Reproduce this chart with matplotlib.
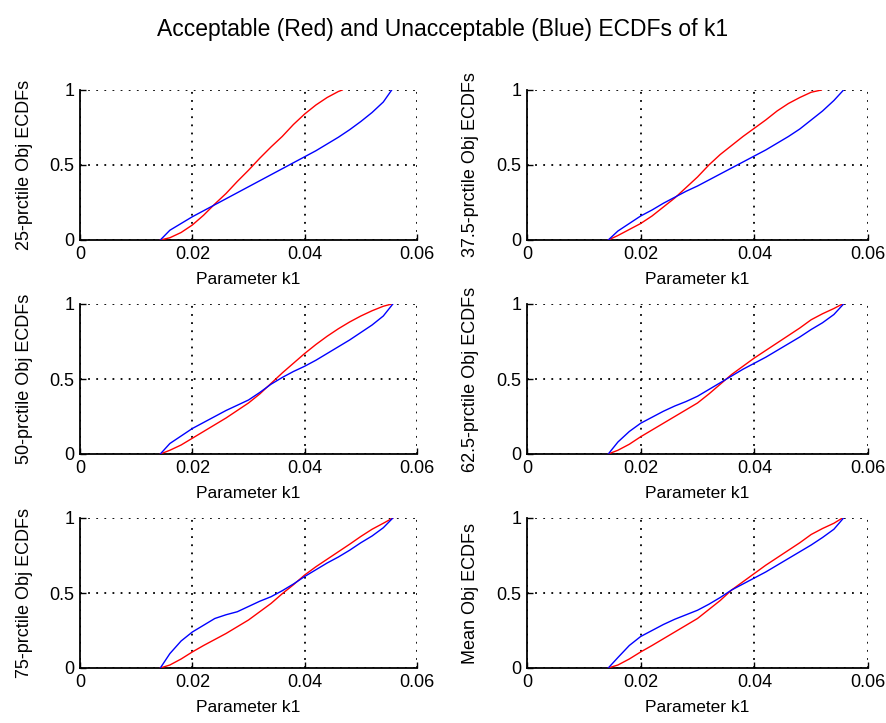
import matplotlib
matplotlib.use("Agg")
import matplotlib.pyplot as plt

plt.rcParams['font.family'] = ['Liberation Sans', 'DejaVu Sans']

# common k1 sample grid; each curve also has its own end point (where ECDF hits 1)
k1 = [0.0143, 0.016, 0.018, 0.020, 0.022, 0.024, 0.026, 0.028, 0.030, 0.032, 0.034,
      0.036, 0.038, 0.040, 0.042, 0.044, 0.046, 0.048, 0.050, 0.052, 0.054]

ylabels = ["25-prctile Obj ECDFs", "37.5-prctile Obj ECDFs", "50-prctile Obj ECDFs",
           "62.5-prctile Obj ECDFs", "75-prctile Obj ECDFs", "Mean Obj ECDFs"]

# acceptable (red)
red_25 = [0, 0.015, 0.05, 0.10, 0.165, 0.24, 0.31, 0.39, 0.465, 0.545, 0.62, 0.69, 0.77, 0.84, 0.90, 0.95, 0.99]
red_375 = [0, 0.03, 0.07, 0.11, 0.16, 0.22, 0.28, 0.35, 0.42, 0.50, 0.57, 0.63, 0.69, 0.745, 0.80, 0.86, 0.91, 0.95, 0.985]
red_50 = [0, 0.025, 0.06, 0.105, 0.15, 0.195, 0.24, 0.29, 0.34, 0.40, 0.47, 0.54, 0.605, 0.67, 0.73, 0.785, 0.835, 0.88, 0.92, 0.955, 0.985]
red_625 = [0, 0.025, 0.065, 0.115, 0.16, 0.205, 0.25, 0.295, 0.34, 0.40, 0.465, 0.53, 0.585, 0.64, 0.69, 0.74, 0.79, 0.84, 0.895, 0.935, 0.97]
red_75 = [0, 0.02, 0.06, 0.107, 0.15, 0.19, 0.23, 0.275, 0.32, 0.375, 0.43, 0.495, 0.555, 0.62, 0.675, 0.725, 0.775, 0.825, 0.877, 0.925, 0.965]
red_mean = [0, 0.02, 0.06, 0.107, 0.15, 0.195, 0.24, 0.285, 0.33, 0.39, 0.45, 0.52, 0.575, 0.63, 0.685, 0.735, 0.785, 0.835, 0.89, 0.93, 0.965]
red_end = [0.0467, 0.0518, 0.0555, 0.0555, 0.0557, 0.0555]

# unacceptable (blue)
blue_25 = [0, 0.065, 0.11, 0.155, 0.195, 0.235, 0.275, 0.315, 0.355, 0.395, 0.435, 0.475, 0.515, 0.555, 0.595, 0.64, 0.685, 0.735, 0.79, 0.85, 0.92]
blue_375 = [0, 0.06, 0.11, 0.16, 0.20, 0.245, 0.285, 0.325, 0.36, 0.40, 0.44, 0.48, 0.52, 0.56, 0.60, 0.645, 0.69, 0.74, 0.80, 0.86, 0.93]
blue_50 = [0, 0.07, 0.12, 0.17, 0.21, 0.25, 0.29, 0.325, 0.36, 0.41, 0.465, 0.51, 0.55, 0.585, 0.625, 0.67, 0.715, 0.76, 0.81, 0.86, 0.92]
blue_625 = [0, 0.08, 0.15, 0.205, 0.245, 0.285, 0.32, 0.35, 0.385, 0.43, 0.475, 0.52, 0.565, 0.605, 0.645, 0.69, 0.735, 0.78, 0.83, 0.875, 0.93]
blue_75 = [0, 0.096, 0.18, 0.24, 0.285, 0.33, 0.355, 0.375, 0.41, 0.445, 0.475, 0.515, 0.56, 0.61, 0.655, 0.70, 0.74, 0.785, 0.835, 0.88, 0.935]
blue_mean = [0, 0.07, 0.15, 0.21, 0.25, 0.29, 0.325, 0.355, 0.385, 0.425, 0.47, 0.52, 0.56, 0.60, 0.64, 0.685, 0.73, 0.775, 0.82, 0.87, 0.925]
blue_end = [0.0555, 0.0557, 0.0557, 0.0557, 0.0557, 0.0557]

reds = [red_25, red_375, red_50, red_625, red_75, red_mean]
blues = [blue_25, blue_375, blue_50, blue_625, blue_75, blue_mean]

xticks = [0, 0.02, 0.04, 0.06]
xticklabels = ["0", "0.02", "0.04", "0.06"]
yticks = [0, 0.5, 1]
yticklabels = ["0", "0.5", "1"]

fig = plt.figure(figsize=(8.86, 7.23), dpi=100)

lefts = [80 / 886, 527 / 886]
widths = [337 / 886, 341 / 886]
bottoms = [1 - 240 / 723, 1 - 454 / 723, 1 - 668 / 723]
h = 150 / 723

for i in range(6):
    r, c = divmod(i, 2)
    ax = fig.add_axes([lefts[c], bottoms[r], widths[c], h])

    ry = reds[i] + [1.0]
    rx = k1[:len(reds[i])] + [red_end[i]]
    by = blues[i] + [1.0]
    bx = k1[:len(blues[i])] + [blue_end[i]]
    ax.plot(rx, ry, color='#ff0000', lw=1.0, zorder=3)
    ax.plot(bx, by, color='#0000ff', lw=1.0, zorder=3)

    ax.set_xlim(0, 0.06)
    ax.set_ylim(0, 1)
    ax.set_xticks(xticks)
    ax.set_xticklabels(xticklabels)
    ax.set_yticks(yticks)
    ax.set_yticklabels(yticklabels)
    ax.tick_params(direction='in', length=4, width=1, labelsize=13, pad=4)
    ax.grid(True, color='black', lw=1.3, linestyle=(0, (1, 3.5)))
    for s in ['top', 'right']:
        ax.spines[s].set_visible(False)
    for s in ['left', 'bottom']:
        ax.spines[s].set_linewidth(1.3)
    ax.set_xlabel("Parameter k1", fontsize=12.5)
    ax.xaxis.set_label_coords(0.5, -0.215)
    ax.set_ylabel(ylabels[i], fontsize=13)
    ax.yaxis.set_label_coords(-0.14, 0.5)
    ax.set_axisbelow(True)

fig.suptitle("Acceptable (Red) and Unacceptable (Blue) ECDFs of k1", fontsize=16.5, y=0.975)

plt.savefig("out.png", dpi=100)
